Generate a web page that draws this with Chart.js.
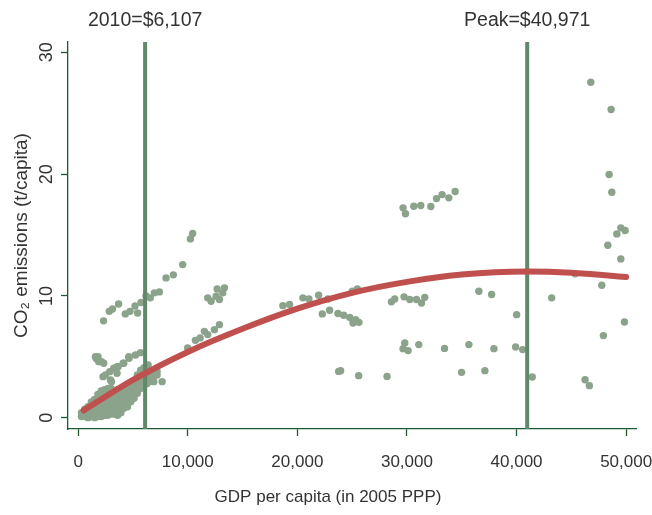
<!DOCTYPE html>
<html>
<head>
<meta charset="utf-8">
<script src="https://cdn.jsdelivr.net/npm/chart.js@4"></script>
<style>
  html, body { margin: 0; padding: 0; background: #fff; }
  #wrap { width: 652px; height: 515px; position: relative; }
</style>
</head>
<body>
<div id="wrap"><canvas id="c"></canvas></div>
<script>
// ---------- data ----------
const xTicks = [0, 10000, 20000, 30000, 40000, 50000];
const yTicks = [0, 10, 20, 30];
const markerValues = [6107, 40971];
const markerLabels = ['2010=$6,107', 'Peak=$40,971'];
const xTitle = 'GDP per capita (in 2005 PPP)';
const yTitle = 'CO\u2082 emissions (t/capita)';

// scattered country-year observations (GDP per capita, CO2 t/capita)
const gdpPerCapita = [
  // dense low-income cluster
  300,300, 600,600,600, 900,900,900,900,
  1200,1200,1200,1200,1200, 1500,1500,1500,1500,1500,1500,
  1800,1800,1800,1800,1800,1800,1800, 2100,2100,2100,2100,2100,2100,2100,2100,
  2400,2400,2400,2400,2400,2400,2400,2400, 2700,2700,2700,2700,2700,2700,2700,2700,
  3000,3000,3000,3000,3000,3000,3000,3000, 3300,3300,3300,3300,3300,3300,3300,
  3600,3600,3600,3600,3600,3600,3600,3600, 3900,3900,3900,3900,3900,3900,3900,
  4200,4200,4200,4200,4200,4200, 4500,4500,4500,4500,4500,4500,
  4800,4800,4800,4800,4800, 5100,5100,5100,5100,5100,
  5400,5400,5400,5400,5400,5400, 5700,5700,5700,5700,5700,5700,
  6000,6000,6000,6000,6000,6000, 6300,6300,6300,6300,6300,6300,
  6600,6600,6600,6600, 6900,6900, 7200,7200,
  // low-income arms
  1572,1650,1812,1874,2120,2331,3245,3547,4159,4616,4641,5229,5686,6380,
  2267,2486,2879,2943,3035,3547,3638,4095,
  5320,6234,6289,6900,7660,
  // 2-10k upper arm
  2313,2834,3135,3684,4296,4726,5183,5420,5731,6188,6581,6947,7404,
  8016,8684,9534,10238,10448,
  11819,12130,12587,12888,13190,13346,12678,
  9991,10695,11124,11517,11819,12431,12888,
  // middle income
  18675,19287,20503,21051,21938,22788,22276,22943,23702,24223,24771,25073,25320,25622,25018,25475,
  28583,28885,29735,30256,30868,31325,31627,
  29643,29863,30622,31261,32176,32697,33208,33821,34397,
  29799,29643,30101,31079,33428,35649,37934,39918,40558,
  23766,23949,25594,28181,34982,37112,41435,
  36563,37724,40009,43208,45338,47779,49845,47925,46252,46645,
  46773,48629,48446,48693,49516,49909,49150,48327,49516
];
const co2PerCapita = [
  0.1,0.4, 0.1,0.4,0.7, 0.0,0.3,0.6,0.9,
  0.1,0.4,0.7,1.0,1.3, 0.0,0.3,0.6,0.9,1.2,1.5,
  0.1,0.4,0.7,1.0,1.3,1.6,1.9, 0.1,0.4,0.7,1.0,1.3,1.6,1.9,2.2,
  0.2,0.5,0.8,1.1,1.4,1.7,2.0,2.3, 0.2,0.5,0.8,1.1,1.4,1.7,2.0,2.4,
  0.3,0.6,0.9,1.2,1.5,1.8,2.1,2.4, 0.3,0.6,0.9,1.2,1.5,1.8,2.1,
  0.2,0.5,0.8,1.1,1.4,1.7,2.0,2.3, 0.4,0.7,1.0,1.3,1.6,1.9,2.2,
  0.8,1.1,1.4,1.7,2.0,2.3, 0.9,1.2,1.5,1.8,2.1,2.5,
  1.3,1.6,1.9,2.2,2.6, 1.6,1.9,2.2,2.5,2.9,
  2.0,2.3,2.6,2.9,3.2,3.5, 2.4,2.7,3.0,3.3,3.6,3.9,
  2.6,2.9,3.2,3.5,3.8,4.1, 2.8,3.1,3.4,3.7,4.0,4.2,
  3.0,3.3,3.6,3.9, 3.4,3.7, 3.5,3.8,
  5.01,4.85,5.0,4.60,4.6,4.47,4.06,4.19,4.47,5.01,4.88,5.15,5.34,4.33,
  3.37,3.51,3.78,3.10,2.96,3.65,4.19,4.47,
  2.28,2.96,3.65,2.96,2.96,
  7.95,8.73,8.93,9.34,8.52,8.73,9.17,8.59,9.46,10.0,9.84,10.25,10.33,
  11.48,11.73,12.57,14.68,15.12,
  9.84,9.56,9.97,9.70,10.25,10.66,10.57,
  5.73,6.35,6.55,7.09,6.82,7.23,7.64,
  9.20,9.29,9.84,9.75,10.05,9.75,8.52,8.82,8.55,8.41,8.24,7.78,8.05,7.83,10.38,10.57,
  9.51,9.75,9.92,9.70,9.70,9.42,9.88,
  17.23,16.74,17.36,17.42,17.34,17.99,18.32,18.05,18.57,
  6.14,5.67,5.51,6.00,5.69,6.00,5.67,5.81,5.59,
  3.80,3.86,3.45,3.39,3.72,3.86,3.34,
  10.38,10.11,8.46,9.84,11.81,10.87,7.86,6.74,3.12,2.63,
  27.55,25.31,19.97,18.51,15.59,15.37,15.09,14.16,13.04
];

// quadratic fit line
const fitGdp = [500, 5000, 10000, 15000, 20000, 25000, 30000, 35000, 41000, 45000, 50000];
const fitCo2 = [0.6, 3.1, 5.4, 7.3, 8.95, 10.25, 11.15, 11.75, 12.0, 11.9, 11.55];

// axis ranges
const xMin = -930, xMax = 50900;
const yMin = -0.93, yMax = 30.85;

// ---------- styling ----------
const AXIS = '#1d5a31';
const TEXT = '#333333';
const DOT = 'rgb(139,162,139)';
const VLINE = 'rgb(96,136,106)';
const FIT = 'rgb(192,80,77)';
const FONT = "'Liberation Sans', Arial, sans-serif";

const fmt = v => String(v).replace(/\B(?=(\d{3})+(?!\d))/g, ',');

const scatterData = gdpPerCapita.map((x, i) => ({ x: x, y: co2PerCapita[i] }));
const fitData = fitGdp.map((x, i) => ({ x: x, y: fitCo2[i] }));

const labelPlugin = {
  id: 'labels',
  afterDraw(chart) {
    const ctx = chart.ctx;
    const xs = chart.scales.x, ys = chart.scales.y;
    ctx.save();
    ctx.fillStyle = TEXT;
    ctx.textAlign = 'center';
    ctx.textBaseline = 'middle';
    // rotated y tick labels
    ctx.font = '18px ' + FONT;
    yTicks.forEach(v => {
      const py = ys.getPixelForValue(v);
      ctx.save();
      ctx.translate(47, py);
      ctx.rotate(-Math.PI / 2);
      ctx.fillText(String(v), 0, 0);
      ctx.restore();
    });
    // y axis title
    ctx.font = '19px ' + FONT;
    ctx.save();
    ctx.translate(22, (chart.chartArea.top + chart.chartArea.bottom) / 2);
    ctx.rotate(-Math.PI / 2);
    ctx.fillText(yTitle, 0, 0);
    ctx.restore();
    // x axis title (centred on the figure)
    ctx.font = '17px ' + FONT;
    ctx.fillText(xTitle, chart.width / 2 + 2, 497);
    // marker labels above plot
    ctx.font = '19.5px ' + FONT;
    markerValues.forEach((m, i) => {
      ctx.fillText(markerLabels[i], xs.getPixelForValue(m), 21);
    });
    ctx.restore();
  }
};

new Chart(document.getElementById('c'), {
  data: {
    datasets: [
      { type: 'line', data: fitData, borderColor: FIT, borderWidth: 6, pointRadius: 0,
        cubicInterpolationMode: 'monotone', borderCapStyle: 'round', fill: false, order: 0 },
      { type: 'line', data: [{x: markerValues[0], y: yMin}, {x: markerValues[0], y: yMax}],
        borderColor: VLINE, borderWidth: 4, pointRadius: 0, order: 1 },
      { type: 'line', data: [{x: markerValues[1], y: yMin}, {x: markerValues[1], y: yMax}],
        borderColor: VLINE, borderWidth: 4, pointRadius: 0, order: 2 },
      { type: 'scatter', data: scatterData, backgroundColor: DOT, borderWidth: 0,
        pointRadius: 3.7, order: 3 }
    ]
  },
  options: {
    responsive: true,
    maintainAspectRatio: false,
    animation: false,
    events: [],
    layout: { padding: { top: 42, right: 16, left: 0, bottom: 0 } },
    plugins: { legend: { display: false }, tooltip: { enabled: false } },
    scales: {
      x: {
        type: 'linear', min: xMin, max: xMax,
        afterBuildTicks: s => { s.ticks = xTicks.map(v => ({ value: v })); },
        afterFit: s => { s.height = 86; s.paddingLeft = 0; s.paddingRight = 0; },
        grid: { display: true, drawOnChartArea: false, drawTicks: true, tickLength: 7,
                color: AXIS, tickWidth: 1.3 },
        border: { display: true, color: AXIS, width: 1.3 },
        ticks: { color: TEXT, font: { family: FONT, size: 17 }, padding: 16,
                 maxRotation: 0, callback: v => fmt(v) },
        title: { display: false }
      },
      y: {
        type: 'linear', min: yMin, max: yMax,
        afterBuildTicks: s => { s.ticks = yTicks.map(v => ({ value: v })); },
        afterFit: s => { s.width = 68; s.paddingTop = 0; s.paddingBottom = 0; },
        grid: { display: true, drawOnChartArea: false, drawTicks: true, tickLength: 7,
                color: AXIS, tickWidth: 1.3 },
        border: { display: true, color: AXIS, width: 1.3 },
        ticks: { display: false },
        title: { display: false }
      }
    }
  },
  plugins: [labelPlugin]
});
</script>
</body>
</html>
